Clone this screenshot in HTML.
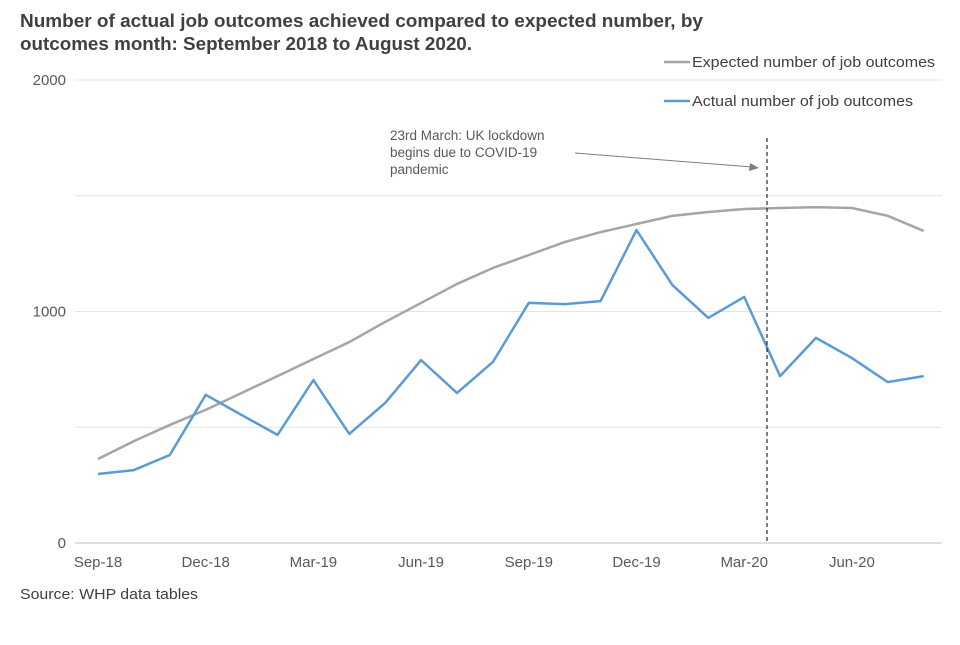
<!DOCTYPE html>
<html><head><meta charset="utf-8"><style>
body{margin:0;background:#fff;}
svg text{font-family:"Liberation Sans",Arial,sans-serif;}
</style></head><body>
<svg id="chart" width="960" height="640" viewBox="0 0 960 640">
<text x="20" y="27" font-size="18" font-weight="bold" fill="#404040" textLength="683" lengthAdjust="spacingAndGlyphs">Number of actual job outcomes achieved compared to expected number, by</text>
<text x="20" y="50" font-size="18" font-weight="bold" fill="#404040" textLength="452" lengthAdjust="spacingAndGlyphs">outcomes month: September 2018 to August 2020.</text>
<g id="grid"></g>
<g id="yaxis"></g>
<g id="xaxis"></g>
<g id="series"></g>
<line x1="767" y1="138" x2="767" y2="543" stroke="#000" stroke-width="1" stroke-dasharray="4,3"/>
<text font-size="13.5" fill="#595959"><tspan x="390" y="140">23rd March: UK lockdown</tspan><tspan x="390" y="157">begins due to COVID-19</tspan><tspan x="390" y="174">pandemic</tspan></text>
<line x1="575" y1="153" x2="752" y2="167" stroke="#7f7f7f" stroke-width="1"/>
<polygon points="759,168 750,163 749,171" fill="#7f7f7f"/>
<g><line x1="664" y1="62" x2="690" y2="62" stroke="#a5a5a5" stroke-width="2.5"/><text x="692" y="67" font-size="15" fill="#404040" textLength="243" lengthAdjust="spacingAndGlyphs">Expected number of job outcomes</text></g>
<g><line x1="664" y1="101" x2="690" y2="101" stroke="#5b9bd5" stroke-width="2.5"/><text x="692" y="106" font-size="15" fill="#404040" textLength="221" lengthAdjust="spacingAndGlyphs">Actual number of job outcomes</text></g>
<text x="20" y="599" font-size="15" fill="#404040" textLength="178" lengthAdjust="spacingAndGlyphs">Source: WHP data tables</text>
</svg>
<script>
const months=["Sep-18","Oct-18","Nov-18","Dec-18","Jan-19","Feb-19","Mar-19","Apr-19","May-19","Jun-19","Jul-19","Aug-19","Sep-19","Oct-19","Nov-19","Dec-19","Jan-20","Feb-20","Mar-20","Apr-20","May-20","Jun-20","Jul-20","Aug-20"];
const expected=[363,440,510,575,648,721,795,868,955,1037,1119,1188,1244,1300,1343,1378,1413,1430,1443,1447,1451,1447,1413,1348];
const actual=[298,315,380,640,553,467,704,471,605,790,648,782,1037,1032,1045,1352,1114,972,1063,721,886,799,695,721];
const yTicks=[0,1000,2000];
const gridVals=[0,500,1000,1500,2000];
const xLabelIdx=[0,3,6,9,12,15,18,21];
const NS="http://www.w3.org/2000/svg";
const x=i=>98+i*35.9;
const y=v=>543-v*0.2315;
function el(t,a,p){const e=document.createElementNS(NS,t);for(const k in a)e.setAttribute(k,a[k]);document.getElementById(p).appendChild(e);return e;}
gridVals.forEach(v=>{const l=el("line",{x1:75,x2:942,y1:y(v),y2:y(v),stroke:v===0?"#bfbfbf":"#e3e3e3","stroke-width":1},"grid");

});
yTicks.forEach(v=>{const t=el("text",{x:66,y:y(v)+5,"font-size":15,fill:"#595959","text-anchor":"end"},"yaxis");t.textContent=v;

});
xLabelIdx.forEach(i=>{const t=el("text",{x:x(i),y:567,"font-size":15,fill:"#595959","text-anchor":"middle"},"xaxis");t.textContent=months[i];

});
const pe=el("polyline",{points:expected.map((v,i)=>x(i)+","+y(v)).join(" "),fill:"none",stroke:"#a5a5a5","stroke-width":2.5,"stroke-linejoin":"round"},"series");


const pa=el("polyline",{points:actual.map((v,i)=>x(i)+","+y(v)).join(" "),fill:"none",stroke:"#5b9bd5","stroke-width":2.5,"stroke-linejoin":"round"},"series");


</script>
</body></html>
